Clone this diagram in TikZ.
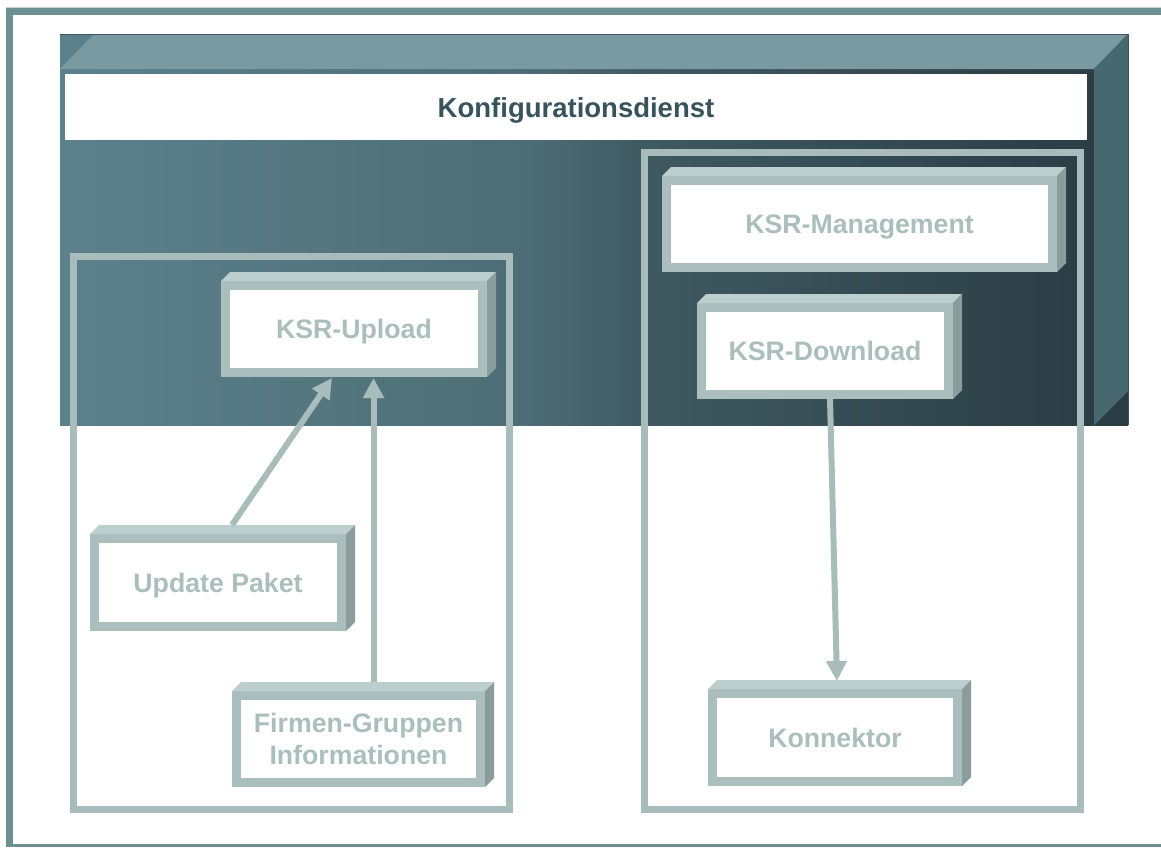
\documentclass[tikz,border=0pt]{standalone}
\usepackage{fontspec}
\setmainfont{Liberation Sans}
\usetikzlibrary{arrows.meta,calc}
\definecolor{frameteal}{HTML}{6C9090}
\definecolor{framegray}{HTML}{C8D2D2}
\definecolor{fa}{HTML}{5C818A}
\definecolor{fb}{HTML}{4C6D76}
\definecolor{fc}{HTML}{405A62}
\definecolor{fd}{HTML}{2E4148}
\definecolor{fe}{HTML}{2B3D44}
\definecolor{topface}{HTML}{7A9AA2}
\definecolor{sideface}{HTML}{48686F}
\definecolor{outline}{HTML}{3D565E}
\definecolor{titlec}{HTML}{37545C}
\definecolor{boxc}{HTML}{AABFBD}
\definecolor{boxtopc}{HTML}{BCCECD}
\definecolor{boxsidec}{HTML}{8A9C9B}
\definecolor{boxtext}{HTML}{AABFBD}
\definecolor{grpc}{HTML}{A8BDBB}
\pgfdeclarehorizontalshading{frontshade}{100bp}{color(0bp)=(fa); color(25bp)=(fa); color(47bp)=(fb); color(52bp)=(fc); color(70bp)=(fd); color(75bp)=(fe); color(100bp)=(fe)}
\newcommand\kfaces[1]{%
  \fill[boxtopc] (#1.north west) -- ++(9,-9) -- ($(#1.north east)+(9,-9)$) -- (#1.north east) -- cycle;
  \fill[boxsidec] (#1.north east) -- ++(9,-9) -- ($(#1.south east)+(9,-9)$) -- (#1.south east) -- cycle;}
\tikzset{
  kbox/.style={draw=boxc, line width=9pt, fill=white, inner sep=0pt, outer sep=4.5pt,
    font=\bfseries\fontsize{26.7}{32}\selectfont, text=boxtext, align=center,
    text height=19pt, text depth=0pt},
  grp/.style={draw=grpc, line width=7pt, inner sep=0pt, outer sep=0pt},
  conn/.style={draw=grpc, line width=6pt, -{Triangle[length=20pt,width=20pt]}}
}
\begin{document}
\begin{tikzpicture}[x=1pt,y=-1pt]
\useasboundingbox (0,0) rectangle (1161,847);
% outer frame
\fill[framegray] (6,6.5) rectangle (1161,8);
\fill[frameteal] (6,8) rectangle (1161,15);
\fill[frameteal] (6,8) rectangle (13,847);
\fill[frameteal] (6,844) rectangle (1161,847);
% main 3D box
\shade[shading=frontshade] (60,34) rectangle (1128,425);
\fill[topface] (60,69) -- (94,34) -- (1128,34) -- (1094,69) -- cycle;
\fill[sideface] (1094,69) -- (1128,34) -- (1128,391) -- (1094,425) -- cycle;
\draw[outline, line width=1pt] (60,34) -- (1128,34) -- (1128,425);
\node[fill=white, minimum width=1022pt, minimum height=66pt, inner sep=0pt,
  font=\bfseries\fontsize{27.5}{33}\selectfont, text=titlec, text height=20pt, text depth=0pt] (title) at (576,107) {Konfigurationsdienst};
% groups
\node[grp, minimum width=436pt, minimum height=553pt] (gleft) at (291.5,533) {};
\node[grp, minimum width=436pt, minimum height=657pt] (gright) at (862.5,481.35) {};
% boxes
\node[kbox, minimum width=257pt, minimum height=87pt] (up) at (354,329) {KSR-Upload};
\kfaces{up}
\node[kbox, minimum width=386pt, minimum height=87pt] (mgmt) at (859.5,224) {KSR-Management};
\kfaces{mgmt}
\node[kbox, minimum width=247pt, minimum height=87pt] (dl) at (825,351) {KSR-Download};
\kfaces{dl}
\node[kbox, minimum width=247pt, minimum height=88pt] (upd) at (218,582.5) {Update Paket};
\kfaces{upd}
\node[kbox, minimum width=244pt, minimum height=87pt, text height=51pt] (fg) at (358.5,739) {Firmen-Gruppen\\Informationen};
\kfaces{fg}
\node[kbox, minimum width=245pt, minimum height=88pt] (kon) at (835,737.5) {Konnektor};
\kfaces{kon}
% connectors
\draw[conn] ([xshift=14pt,yshift=9pt]upd.north) -- ([xshift=-22pt,yshift=-1pt]up.south);
\draw[conn] ([xshift=15pt,yshift=9pt]fg.north) -- ([xshift=15pt,yshift=-1pt]fg.north |- up.south);
\draw[conn] ([xshift=5pt]dl.south) -- ([xshift=2pt,yshift=8pt]kon.north);
\end{tikzpicture}
\end{document}
